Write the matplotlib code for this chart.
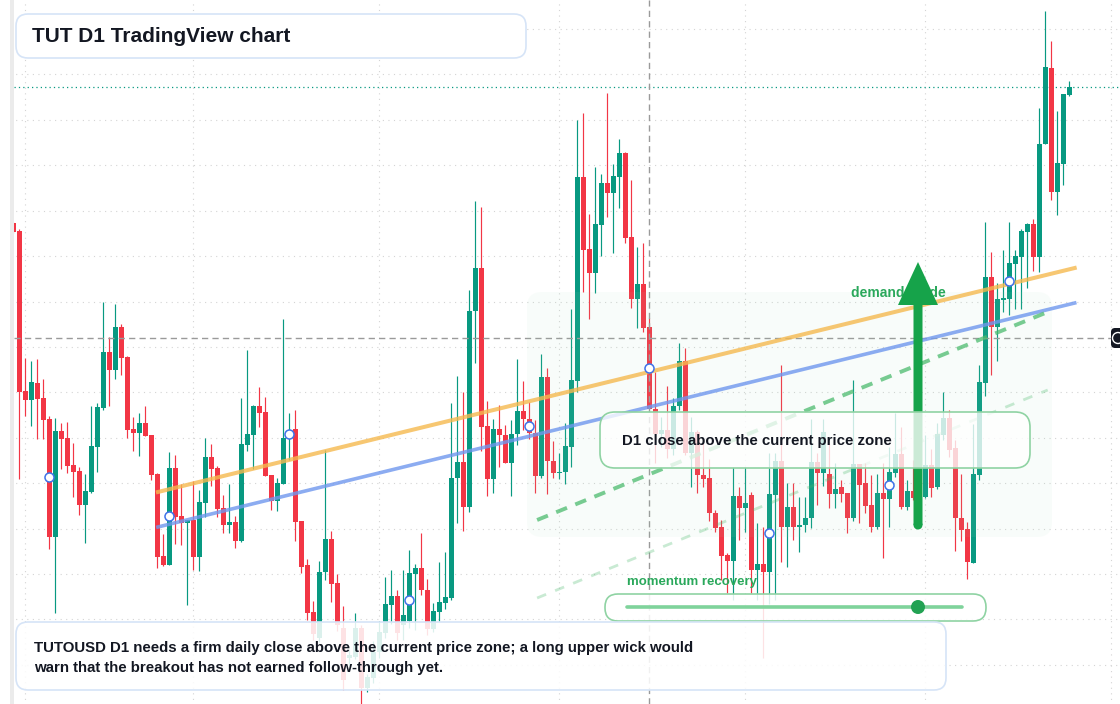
import matplotlib
matplotlib.use("Agg")
import matplotlib.pyplot as plt
from matplotlib.patches import FancyBboxPatch, FancyArrow, Circle, Rectangle
import numpy as np

# daily candles, price in chart units (higher = higher price)
opens = [497, 489, 329, 320, 337, 322, 301, 183, 289, 282,
         255, 249, 215, 228, 273, 312, 368, 350, 393, 363,
         291, 287, 297, 285, 246, 164, 155, 252, 204, 197,
         200, 163, 217, 263, 252, 212, 195, 198, 179, 275,
         285, 314, 308, 245, 219, 236, 285, 291, 199, 155,
         108, 82, 148, 181, 137, 92, 62, 63, 92, 32,
         42, 68, 87, 115, 124, 95, 99, 146, 152, 130,
         91, 108, 117, 122, 242, 258, 213, 409, 452, 294,
         241, 291, 285, 257, 286, 309, 301, 287, 244, 343,
         259, 247, 248, 273, 339, 543, 471, 447, 495, 537,
         527, 543, 567, 483, 421, 436, 393, 311, 286, 290,
         271, 314, 359, 267, 288, 245, 242, 207, 193, 165,
         159, 224, 212, 225, 150, 156, 148, 225, 259, 193,
         213, 193, 195, 202, 258, 247, 246, 226, 233, 227,
         202, 256, 237, 215, 193, 227, 221, 247, 266, 213,
         229, 222, 223, 255, 233, 285, 302, 272, 202, 191,
         157, 245, 337, 443, 393, 420, 421, 456, 463, 488,
         496, 463, 576, 652, 528, 556, 625]
highs = [498, 491, 362, 359, 361, 341, 304, 302, 297, 298,
         277, 253, 246, 314, 317, 418, 383, 416, 396, 364,
         303, 307, 314, 285, 247, 186, 268, 265, 236, 200,
         239, 230, 282, 276, 254, 225, 236, 204, 322, 370,
         315, 333, 323, 245, 242, 401, 307, 310, 199, 161,
         119, 159, 270, 189, 146, 114, 70, 107, 95, 46,
         79, 99, 143, 150, 130, 150, 170, 156, 187, 141,
         117, 158, 168, 317, 344, 328, 430, 519, 513, 319,
         301, 315, 295, 300, 361, 339, 318, 300, 366, 352,
         279, 267, 297, 411, 600, 607, 506, 553, 546, 627,
         556, 581, 568, 540, 473, 477, 402, 348, 303, 334,
         322, 377, 372, 303, 290, 277, 261, 210, 200, 167,
         253, 233, 253, 228, 197, 193, 267, 267, 355, 237,
         237, 223, 223, 301, 267, 301, 277, 257, 240, 227,
         340, 256, 257, 245, 246, 257, 273, 307, 293, 240,
         260, 250, 285, 271, 297, 328, 310, 280, 246, 198,
         296, 355, 498, 468, 437, 470, 498, 470, 491, 497,
         501, 612, 709, 679, 609, 626, 639]
lows = [487, 241, 304, 294, 281, 281, 171, 107, 251, 247,
        223, 205, 177, 227, 248, 310, 314, 341, 345, 282,
        269, 264, 284, 240, 152, 154, 155, 176, 175, 115,
        150, 149, 203, 234, 203, 187, 187, 172, 178, 269,
        251, 293, 244, 210, 209, 236, 260, 179, 147, 100,
        80, 78, 140, 118, 89, 30, 55, 61, 16, 28,
        37, 62, 82, 96, 80, 80, 92, 90, 125, 85,
        88, 99, 111, 120, 197, 189, 208, 357, 269, 224,
        227, 253, 257, 224, 275, 290, 281, 227, 242, 226,
        242, 241, 236, 253, 328, 428, 401, 427, 464, 503,
        467, 512, 477, 412, 392, 388, 311, 257, 273, 262,
        265, 310, 265, 233, 227, 233, 199, 188, 140, 127,
        120, 180, 188, 127, 120, 62, 116, 120, 158, 153,
        180, 168, 188, 192, 215, 234, 212, 212, 218, 187,
        199, 197, 207, 188, 191, 162, 193, 243, 211, 210,
        220, 210, 222, 223, 231, 280, 263, 169, 179, 141,
        157, 240, 324, 345, 359, 408, 405, 411, 411, 432,
        449, 448, 576, 520, 505, 535, 624]
closes = [488, 328, 320, 338, 321, 300, 183, 289, 281, 254,
          248, 215, 229, 274, 313, 368, 350, 393, 362, 290,
          287, 297, 284, 245, 163, 155, 252, 203, 197, 200,
          163, 218, 263, 251, 211, 195, 198, 179, 276, 286,
          314, 307, 244, 219, 237, 282, 287, 198, 153, 107,
          86, 148, 181, 136, 95, 40, 65, 92, 32, 43,
          68, 88, 116, 124, 87, 105, 147, 152, 130, 91,
          109, 118, 123, 242, 258, 213, 409, 452, 293, 241,
          291, 285, 257, 286, 309, 301, 287, 244, 343, 259,
          247, 248, 274, 340, 543, 470, 447, 496, 537, 527,
          544, 567, 482, 421, 436, 392, 311, 286, 290, 271,
          314, 359, 267, 288, 245, 241, 207, 192, 164, 159,
          224, 212, 217, 150, 156, 148, 226, 259, 193, 213,
          193, 195, 202, 258, 247, 288, 226, 231, 226, 202,
          256, 235, 214, 193, 227, 221, 248, 266, 213, 229,
          222, 230, 255, 232, 286, 302, 270, 202, 190, 158,
          246, 338, 443, 393, 421, 422, 457, 464, 489, 496,
          463, 576, 653, 528, 557, 626, 633]

# sampled closes marked on the chart
mark_idx = [6, 26, 46, 66, 86, 106, 126, 146, 166]
mark_val = [243, 204, 286, 120, 294, 352, 187, 235, 439]

# trend guides (bar index, price)
orange_line = ([24.1, 176.9], [228, 452])
blue_line = ([24.1, 176.9], [193, 417])
green_guide = ([87.3, 172.4], [200, 408])
green_guide_low = ([87.3, 172.4], [122, 330])

last_price = 633
cross_price = 382
cross_bar = 106
month_starts = [2, 30, 61, 91, 122, 152, 183]
grid_top, grid_step = 691, 45.42

UP, DOWN = "#089981", "#f23645"
INK = "#131722"
GREEN_TXT = "#2aa85b"

W, H, DPI = 1120, 704, 100
plt.rcParams["font.family"] = ["Liberation Sans", "DejaVu Sans"]

fig = plt.figure(figsize=(W / DPI, H / DPI), dpi=DPI)
fig.patch.set_facecolor("white")
ax = fig.add_axes([14 / W, 0, 1 - 14 / W, 1])
ax.axis("off")
inch = fig.dpi_scale_trans


def pin(x, y):
    """pixel (from top-left) -> inches for dpi_scale_trans"""
    return x / DPI, (H - y) / DPI


# grid
levels = np.arange(grid_top, 0, -grid_step)
ax.hlines(levels, -5, 190, colors="#d4d4d4", lw=0.8,
          linestyles=[(0, (1, 4))], zorder=0.5)
ax.vlines(month_starts, 0, 800, colors="#d4d4d4", lw=0.8,
          linestyles=[(0, (1, 4))], zorder=0.5)
ax.axhline(last_price, color=UP, lw=0.9, ls=(0, (1, 2.5)), zorder=1)

# candles
o, hi, lo, c = map(np.array, (opens, highs, lows, closes))
x = np.arange(len(o))
cols = np.where(c >= o, UP, DOWN)
ax.vlines(x, np.minimum(lo, np.minimum(o, c)), np.maximum(hi, np.maximum(o, c)),
          colors=cols, lw=0.85, zorder=2)
ax.bar(x, np.maximum(np.abs(c - o), 1.5), bottom=np.minimum(o, c), width=0.78,
       color=cols, lw=0, zorder=2.1)

# crosshair
ax.axhline(cross_price, xmax=(1111 - 14) / (W - 14), color="#9a9a9a", lw=1.0,
           ls=(0, (4.5, 3)), zorder=2.5)
ax.axvline(cross_bar, color="#9a9a9a", lw=1.0, ls=(0, (4.5, 3)), zorder=2.5)

# zone
zx, zy = pin(527, 537)
ax.add_patch(FancyBboxPatch((zx, zy), 5.25, 2.45, boxstyle="round,pad=0,rounding_size=0.15",
                            transform=inch, fc="#a6e0ba", alpha=0.07, ec="none", zorder=3))

# guides
ax.plot(*orange_line, color="#f5b94f", lw=2.9, alpha=0.8, zorder=4)
ax.plot(*blue_line, color="#6f97ee", lw=2.6, alpha=0.8, zorder=4)
ax.plot(*green_guide, color="#4cbb6e", lw=2.8, alpha=0.75, ls=(0, (3, 2.3)), zorder=4)
ax.plot(*green_guide_low, color="#4cbb6e", lw=2.0, alpha=0.3, ls=(0, (3.5, 3.5)), zorder=4)

# demand guide + arrow
tx, ty = pin(851, 293)
ax.text(tx, ty, "demand guide", transform=inch, fontsize=10, fontweight="bold",
        color=GREEN_TXT, va="center", ha="left", zorder=4.5)
bx, by = pin(918, 525)
_, ay = pin(918, 262)
ax.add_patch(FancyArrow(bx, by, 0, ay - by, width=0.09, head_width=0.40, head_length=0.43,
                        length_includes_head=True, transform=inch, color="#16a34a",
                        lw=0, zorder=5))
ax.add_patch(Circle((bx, by), 0.045, transform=inch, color="#16a34a", lw=0, zorder=5))

ax.plot(mark_idx, mark_val, "o", ms=6.5, mfc="white", mec="#3f72e8", mew=1.1, zorder=6)

# D1 box
dx, dy = pin(600, 468)
ax.add_patch(FancyBboxPatch((dx, dy), 4.30, 0.56, boxstyle="round,pad=0,rounding_size=0.15",
                            transform=inch, fc=(1, 1, 1, 0.78), ec="#8fd3a3", lw=1.2, zorder=7))
tx, ty = pin(622, 441)
ax.text(tx, ty, "D1 close above the current price zone", transform=inch, fontsize=10.8,
        fontweight="bold", color=INK, va="center", ha="left", zorder=8)

# momentum slider
tx, ty = pin(627, 582)
ax.text(tx, ty, "momentum recovery", transform=inch, fontsize=9.5, fontweight="bold",
        color=GREEN_TXT, va="center", ha="left", zorder=8)
mx, my = pin(605, 621)
ax.add_patch(FancyBboxPatch((mx, my), 3.81, 0.27, boxstyle="round,pad=0,rounding_size=0.13",
                            transform=inch, fc=(1, 1, 1, 0.85), ec="#8fd3a3", lw=1.2, zorder=7))
sx0, sy = pin(627, 607)
sx1, _ = pin(962, 607)
ax.plot([sx0, sx1], [sy, sy], transform=inch, color="#7fd39b", lw=2.6,
        solid_capstyle="round", zorder=8)
kx, _ = pin(918, 607)
ax.add_patch(Circle((kx, sy), 0.07, transform=inch, color="#22a253", lw=0, zorder=9))

# bottom note
nx, ny = pin(16, 690)
ax.add_patch(FancyBboxPatch((nx, ny), 9.30, 0.68, boxstyle="round,pad=0,rounding_size=0.12",
                            transform=inch, fc=(1, 1, 1, 0.86), ec="#d6e4f7", lw=1.2, zorder=7))
for yy, line in [(648, "TUTOUSD D1 needs a firm daily close above the current price zone; a long upper wick would"),
                 (668, "warn that the breakout has not earned follow-through yet.")]:
    tx, ty = pin(34, yy)
    ax.text(tx, ty, line, transform=inch, fontsize=10.8, fontweight="bold",
            color=INK, va="center", ha="left", zorder=8)

# title
hx, hy = pin(16, 58)
ax.add_patch(FancyBboxPatch((hx, hy), 5.10, 0.44, boxstyle="round,pad=0,rounding_size=0.12",
                            transform=inch, fc="white", ec="#d6e4f7", lw=1.2, zorder=9))
tx, ty = pin(32, 36)
ax.text(tx, ty, "TUT D1 TradingView chart", transform=inch, fontsize=15,
        fontweight="bold", color=INK, va="center", ha="left", zorder=10)

ax.set_xlim(0.117, 184.45)
ax.set_ylim(16, 720)

# left strip and right price label stub
fig.add_artist(Rectangle((0.10, 0), 0.04, H / DPI, transform=inch, color="#ebebeb", lw=0))
lx, ly = pin(1111, 348)
fig.add_artist(FancyBboxPatch((lx, ly), 0.2, 0.20, boxstyle="round,pad=0,rounding_size=0.04",
                              transform=inch, fc=INK, ec="none"))
fig.add_artist(Circle(pin(1118, 338), 0.055, transform=inch, fill=False, ec="white", lw=1))

fig.savefig("out.png", dpi=DPI, facecolor="white")
